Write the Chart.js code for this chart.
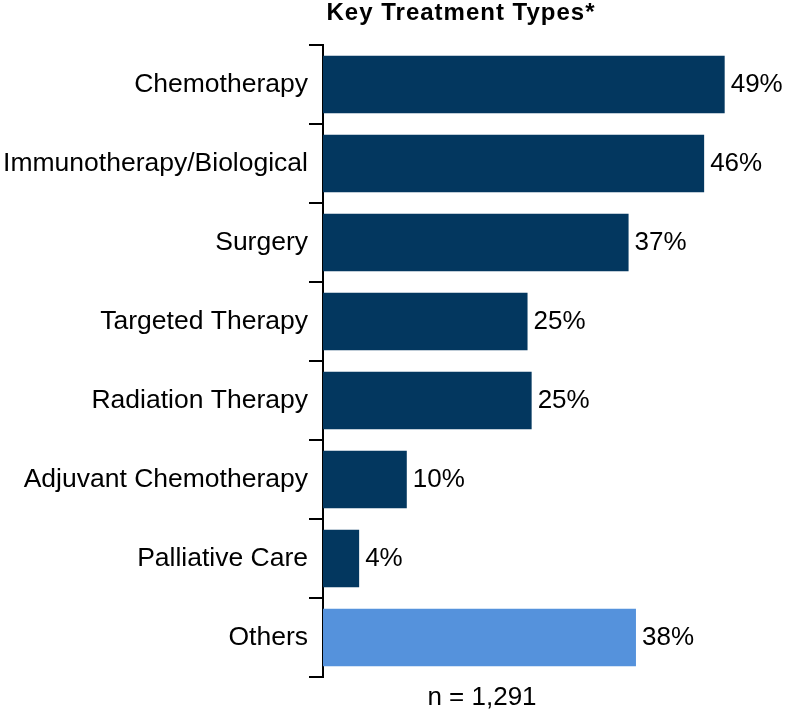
<!DOCTYPE html>
<html>
<head>
<meta charset="utf-8">
<script src="https://cdn.jsdelivr.net/npm/chart.js@4/dist/chart.umd.min.js"></script>
<style>
  html, body { margin: 0; padding: 0; background: #fff; }
  #wrap { width: 788px; height: 711px; }
</style>
</head>
<body>
<div id="wrap"><canvas id="chart"></canvas></div>
<script>
// Chart data
var categories = ["Chemotherapy", "Immunotherapy/Biological", "Surgery", "Targeted Therapy",
                  "Radiation Therapy", "Adjuvant Chemotherapy", "Palliative Care", "Others"];
var shares     = [48.9, 46.4, 37.2, 24.9, 25.4, 10.2, 4.4, 38.1];
var valueLabels = ["49%", "46%", "37%", "25%", "25%", "10%", "4%", "38%"];
var barColors  = ["#03375f", "#03375f", "#03375f", "#03375f", "#03375f", "#03375f", "#03375f", "#5592dc"];
var chartTitle = "Key Treatment Types*";
var sampleNote = "n = 1,291";

var FONT = "'Liberation Sans', Arial, Helvetica, sans-serif";

// Percent labels at the end of each bar, plus title and n note
var labelsPlugin = {
  id: "labels",
  afterDatasetsDraw: function(chart) {
    var ctx = chart.ctx;
    var area = chart.chartArea;
    var meta = chart.getDatasetMeta(0);

    ctx.save();
    ctx.fillStyle = "#000";
    ctx.font = "26px " + FONT;
    ctx.textAlign = "left";
    ctx.textBaseline = "middle";
    meta.data.forEach(function(bar, i) {
      ctx.fillText(valueLabels[i], bar.x + 6, bar.y);
    });

    // title
    ctx.font = "bold 24px " + FONT;
    ctx.letterSpacing = "1px";
    ctx.textAlign = "center";
    ctx.textBaseline = "alphabetic";
    ctx.fillText(chartTitle, area.left + 138, 20);

    // sample size
    ctx.letterSpacing = "0px";
    ctx.font = "26px " + FONT;
    ctx.fillText(sampleNote, area.left + 159, 705);
    ctx.restore();
  }
};

new Chart(document.getElementById("chart"), {
  type: "bar",
  data: {
    labels: categories,
    datasets: [{
      data: shares,
      backgroundColor: barColors,
      barPercentage: 0.73,
      categoryPercentage: 1
    }]
  },
  options: {
    indexAxis: "y",
    responsive: true,
    maintainAspectRatio: false,
    animation: false,
    layout: { padding: { top: 45, bottom: 34, left: 0, right: 5 } },
    plugins: {
      legend: { display: false },
      tooltip: { enabled: false }
    },
    scales: {
      x: {
        display: false,
        min: 0,
        max: 56
      },
      y: {
        afterFit: function(scale) { scale.width = 323; },
        border: { display: true, color: "#000", width: 2 },
        grid: {
          offset: true,
          drawOnChartArea: false,
          drawTicks: true,
          tickLength: 14,
          color: "#000",
          lineWidth: 2
        },
        ticks: {
          color: "#000",
          padding: 1,
          font: { family: FONT, size: 26.5 }
        }
      }
    }
  },
  plugins: [labelsPlugin]
});
</script>
</body>
</html>
